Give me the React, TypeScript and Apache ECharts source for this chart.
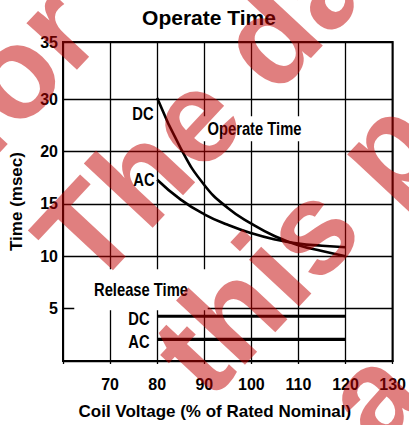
import React, { useEffect, useRef } from "react";
import * as echarts from "echarts";

// ---- data ----
const xMin = 60;
const xMax = 130;
const yTop = 30.44; // top border of the plot (labelled "35")
const voltage = [80, 85, 90, 95, 100, 105, 110, 115, 120];
const dcOperate = [25.1, 20.3, 16.8, 14.6, 13.1, 11.9, 11.05, 10.5, 10.0];
const acOperate = [17.3, 15.4, 14.0, 13.0, 12.2, 11.6, 11.2, 11.0, 10.85];
const releaseVoltage = [80, 120];
const dcRelease = [4.27, 4.27];
const acRelease = [2.07, 2.07];
const yLabelMap: [number, string][] = [
  [5, "5"],
  [10, "10"],
  [15, "15"],
  [20, "20"],
  [25, "30"],
  [yTop, "35"],
];
// chart annotations: [text, x, y] in data coordinates
const curveLabels: [string, number, number][] = [
  ["DC", 76.98, 23.58],
  ["AC", 77.19, 17.3],
  ["DC", 76.14, 4.02],
  ["AC", 76.14, 1.83],
];
const operateLabel: [string, number, number] = ["Operate Time", 100.66, 22.16];
const releaseLabel: [string, number, number] = ["Release Time", 76.56, 6.8];

// watermark lines: text, u (along baseline), v (baseline offset), align
const watermark: [string, number, number, string][] = [
  ["for", 43, 104, "right"],
  ["The data", -151, 267, "left"],
  ["this pdf", -152, 428, "left"],
  ["a", -72, 585, "left"],
];

const FONT = "'Liberation Sans', Arial, Helvetica, sans-serif";
const NARROW_SCALE = 0.82;

export default function App() {
  const ref = useRef<HTMLDivElement>(null);
  useEffect(() => {
    document.body.style.margin = "0";
    const chart = echarts.init(ref.current!, null, { renderer: "svg" });
    const black = "#000";
    const splitColors = [black, black, black, black, black, black, "rgba(0,0,0,0)", black];
    chart.setOption({
      animation: false,
      backgroundColor: "#fff",
      title: {
        text: "Operate Time",
        left: 209,
        top: 7,
        padding: 0,
        textAlign: "center",
        textStyle: { fontFamily: FONT, fontWeight: "bold", fontSize: 21, color: black },
      },
      grid: {
        left: 63,
        right: 12,
        top: 42,
        bottom: 63.3,
        show: true,
        borderColor: black,
        borderWidth: 2,
        backgroundColor: "transparent",
      },
      xAxis: {
        type: "value",
        min: xMin,
        max: xMax,
        interval: 10,
        name: "Coil Voltage (% of Rated Nominal)",
        nameLocation: "middle",
        nameGap: 42,
        nameTextStyle: {
          fontFamily: FONT,
          fontWeight: "bold",
          fontSize: 17,
          color: black,
          padding: [0, 26, 0, 0],
        },
        axisLine: { show: true, lineStyle: { color: black, width: 2 } },
        axisTick: { show: true, length: 3, lineStyle: { color: black, width: 1.3 } },
        axisLabel: {
          margin: 15,
          fontFamily: FONT,
          fontWeight: "bold",
          fontSize: 16,
          color: black,
          formatter: (v: number) => (v === xMin ? "" : String(v)),
        },
        splitLine: { show: true, lineStyle: { color: black, width: 1.3 } },
      },
      yAxis: {
        type: "value",
        min: 0,
        max: yTop,
        interval: 5,
        name: "Time (msec)",
        nameLocation: "middle",
        nameRotate: 90,
        nameGap: 38,
        nameTextStyle: { fontFamily: FONT, fontWeight: "bold", fontSize: 17, color: black },
        axisLine: { show: true, lineStyle: { color: black, width: 2 } },
        axisTick: { show: false },
        axisLabel: {
          margin: 5,
          fontFamily: FONT,
          fontWeight: "bold",
          fontSize: 16,
          color: black,
          formatter: (v: number) => {
            for (const [k, s] of yLabelMap) if (Math.abs(k - v) < 0.01) return s;
            return "";
          },
        },
        splitLine: { show: true, lineStyle: { color: splitColors, width: 1.3 } },
      },
      series: [
        {
          type: "line",
          name: "DC operate",
          data: voltage.map((x, i) => [x, dcOperate[i]]),
          smooth: 0.5,
          showSymbol: false,
          lineStyle: { color: black, width: 2.6 },
          z: 5,
        },
        {
          type: "line",
          name: "AC operate",
          data: voltage.map((x, i) => [x, acOperate[i]]),
          smooth: 0.5,
          showSymbol: false,
          lineStyle: { color: black, width: 2.6 },
          z: 5,
        },
        {
          type: "line",
          name: "DC release",
          data: releaseVoltage.map((x, i) => [x, dcRelease[i]]),
          showSymbol: false,
          lineStyle: { color: black, width: 3.2 },
          z: 5,
        },
        {
          type: "line",
          name: "AC release",
          data: releaseVoltage.map((x, i) => [x, acRelease[i]]),
          showSymbol: false,
          lineStyle: { color: black, width: 3.2 },
          z: 5,
        },
      ],
    });

    const px = (x: number, y: number) => chart.convertToPixel({ gridIndex: 0 }, [x, y]) as number[];
    const textStyle = (text: string) => ({
      text,
      fontFamily: FONT,
      fontWeight: "bold",
      fontSize: 18,
      fill: black,
      textAlign: "center",
      textVerticalAlign: "middle",
    });
    const graphics: any[] = [];
    for (const [t, x, y] of curveLabels) {
      const p = px(x, y);
      graphics.push({ type: "text", x: p[0], y: p[1], scaleX: NARROW_SCALE, z: 50, style: textStyle(t) });
    }
    {
      const p = px(operateLabel[1], operateLabel[2]);
      graphics.push({
        type: "text",
        x: p[0],
        y: p[1],
        scaleX: NARROW_SCALE,
        z: 50,
        style: { ...textStyle(operateLabel[0]), backgroundColor: "#fff", padding: [4, 6, 3, 6] },
      });
    }
    {
      const p = px(releaseLabel[1], releaseLabel[2]);
      graphics.push({
        type: "text",
        x: p[0],
        y: p[1],
        scaleX: NARROW_SCALE,
        z: 50,
        style: { ...textStyle(releaseLabel[0]), backgroundColor: "#fff", padding: [19, 24, 4, 24] },
      });
    }
    const rot = (47 * Math.PI) / 180;
    const c = Math.cos(rot);
    const s = Math.sin(rot);
    const fs = 130;
    for (const [t, u, v, align] of watermark) {
      const vm = v - 0.3465 * fs;
      graphics.push({
        type: "text",
        x: u * c + vm * s,
        y: -u * s + vm * c,
        rotation: rot,
        z: 100,
        silent: true,
        style: {
          text: t,
          font: `bold ${fs}px ${FONT}`,
          fill: "rgba(194,0,0,0.5)",
          textAlign: align,
          textVerticalAlign: "middle",
        },
      });
    }
    chart.setOption({ graphic: graphics });
    return () => chart.dispose();
  }, []);
  return (
    <div
      ref={ref}
      style={{ position: "fixed", left: 0, top: 0, width: 409, height: 425 }}
    />
  );
}
